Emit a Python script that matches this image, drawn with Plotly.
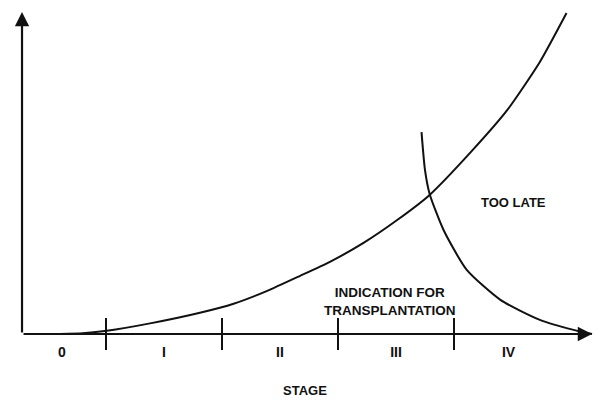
import plotly.graph_objects as go

# stage axis: boundaries between stages sit at 1..4, labels below
stage_bounds = [1, 2, 3, 4]
stage_labels = ["0", "I", "II", "III", "IV"]
stage_label_x = [0.62, 1.5, 2.5, 3.5, 4.47]

# rising curve (disease progression)
rise_x = [0.60, 0.80, 0.99, 1.38, 1.81, 2.10, 2.39, 2.67, 2.93, 3.22, 3.51,
          3.79, 4.16, 4.46, 4.74, 4.97]
rise_y = [0.0, 0.2, 0.9, 3.3, 6.6, 9.4, 13.4, 18.0, 22.4, 28.3, 35.4,
          43.2, 57.1, 69.6, 84.5, 99.7]

# falling curve ("too late" boundary)
fall_x = [3.72, 3.75, 3.79, 3.91, 4.11, 4.40, 4.74, 5.04, 5.19]
fall_y = [62.7, 50.9, 43.5, 32.3, 19.9, 10.6, 4.4, 1.2, 0.0]

ink = "#111111"
font = dict(family="Liberation Sans, Arial", size=13, color=ink, weight="bold")

fig = go.Figure()

fig.add_trace(go.Scatter(
    x=rise_x, y=rise_y, mode="lines",
    line=dict(color=ink, width=2, shape="spline", smoothing=0.6),
    hoverinfo="skip"
))

fig.add_trace(go.Scatter(
    x=fall_x, y=fall_y, mode="lines",
    line=dict(color=ink, width=2, shape="spline", smoothing=0.6),
    hoverinfo="skip"
))

# tick marks at stage boundaries
fig.add_trace(go.Scatter(
    x=stage_bounds, y=[0] * len(stage_bounds), mode="markers",
    marker=dict(symbol="line-ns", size=23, line=dict(color=ink, width=2)),
    hoverinfo="skip"
))

fig.add_trace(go.Scatter(
    x=stage_label_x, y=[-6.2] * len(stage_label_x), mode="text",
    text=stage_labels, textfont=dict(font, size=14), hoverinfo="skip"
))

# axes drawn as arrows
fig.add_annotation(x=5.19, y=0, ax=0.276, ay=0, xref="x", yref="y",
                   axref="x", ayref="y", showarrow=True, text="",
                   arrowhead=2, arrowsize=1.3, arrowwidth=2.2, arrowcolor=ink)
fig.add_annotation(x=0.276, y=100, ax=0.276, ay=0, xref="x", yref="y",
                   axref="x", ayref="y", showarrow=True, text="",
                   arrowhead=2, arrowsize=1.3, arrowwidth=2.2, arrowcolor=ink)

fig.add_annotation(x=2.716, y=-17.4, text="STAGE", showarrow=False, font=font)
fig.add_annotation(x=3.448, y=10.1, text="INDICATION FOR<br>TRANSPLANTATION",
                   showarrow=False, font=dict(font, size=13.5))
fig.add_annotation(x=4.509, y=40.7, text="TOO LATE", showarrow=False, font=font)

fig.update_layout(
    width=600, height=404,
    margin=dict(l=0, r=0, t=0, b=0),
    paper_bgcolor="white", plot_bgcolor="white",
    showlegend=False,
    xaxis=dict(range=[0.0862, 5.2586], visible=False, fixedrange=True),
    yaxis=dict(range=[-21.74, 103.73], visible=False, fixedrange=True),
)

# page body has a default 8px margin; drop it so the figure fills the window
fig.write_html("out.html", config={"displayModeBar": False},
               post_script="document.body.style.margin='0';")
